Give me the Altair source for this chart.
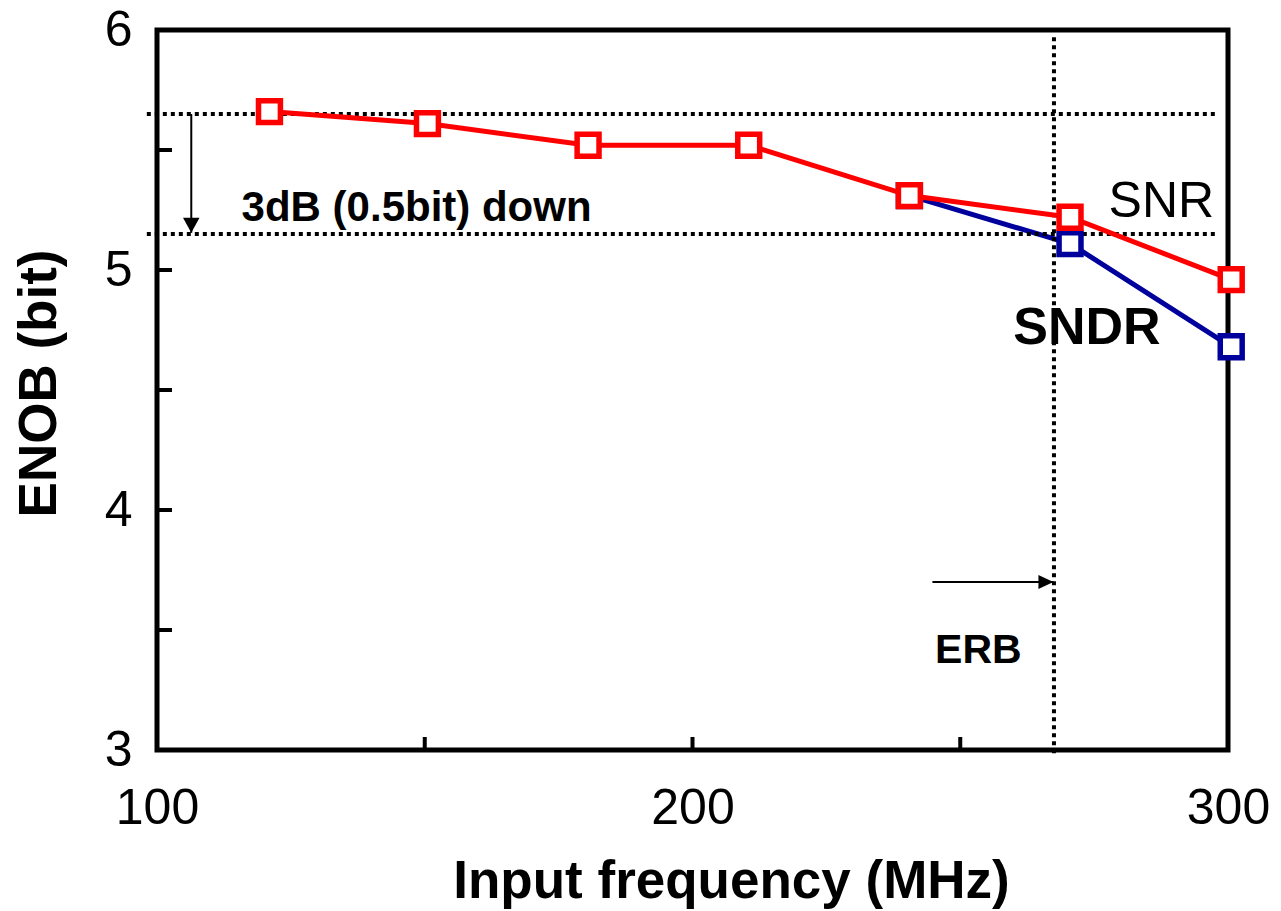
import altair as alt
import pandas as pd

# ---- data ----
freq_snr = [121, 150.5, 180.5, 210.5, 240.5, 270.5, 300.6]
snr = [5.66, 5.61, 5.52, 5.52, 5.31, 5.22, 4.96]
freq_sndr = [240.5, 270.5, 300.6]
sndr = [5.31, 5.11, 4.68]

x_tick_labels = [100, 200, 300]
y_tick_labels = [3, 4, 5, 6]
x_minor_ticks = [150, 200, 250]
y_minor_ticks = [3.5, 4, 4.5, 5, 5.5]

ref_levels = [5.65, 5.15]        # 3dB (0.5 bit) window
ref_x_start, ref_x_end = 98.1, 297.7
erb_freq = 267.5
erb_y_top, erb_y_bottom = 5.97, 2.98

down_arrow = {"x": 106.4, "y1": 5.65, "y2": 5.155}
erb_arrow = {"x1": 244.8, "x2": 267.4, "y": 3.70}

labels = pd.DataFrame({
    "x": [115.8, 277.7, 259.9, 245.3],
    "y": [5.204, 5.222, 4.692, 3.3625],
    "text": ["3dB (0.5bit) down", "SNR", "SNDR", "ERB"],
})

FONT = "Liberation Sans"
W, H = 1071, 720

xs = alt.Scale(domain=[100, 300], nice=False, zero=False)
ys = alt.Scale(domain=[3, 6], nice=False, zero=False)

snr_df = pd.DataFrame({"f": freq_snr, "v": snr})
sndr_df = pd.DataFrame({"f": freq_sndr, "v": sndr})

x_axis = alt.Axis(
    values=x_tick_labels, domain=False, ticks=False, tickSize=0, grid=False,
    labelFont=FONT, labelFontSize=50, labelColor="black", labelPadding=33,
    labelFlush=False, labelOverlap=False,
    title="Input frequency (MHz)", titleFont=FONT, titleFontSize=53,
    titleFontWeight="bold", titleColor="black", titleX=574, titleY=147,
    titleAlign="center", titleBaseline="alphabetic",
)
y_axis = alt.Axis(
    values=y_tick_labels, domain=False, ticks=False, tickSize=0, grid=False,
    labelFont=FONT, labelFontSize=50, labelColor="black", labelPadding=25,
    labelOverlap=False,
    title="ENOB (bit)", titleFont=FONT, titleFontSize=53,
    titleFontWeight="bold", titleColor="black", titleX=-102, titleY=353,
    titleAngle=270, titleAlign="center", titleBaseline="alphabetic",
)


def X(field):
    return alt.X(field, scale=xs, axis=x_axis)


def Y(field):
    return alt.Y(field, scale=ys, axis=y_axis)


sndr_line = alt.Chart(sndr_df).mark_line(color="#00009c", strokeWidth=5).encode(
    x=X("f:Q"), y=Y("v:Q"))
sndr_pts = alt.Chart(sndr_df).mark_point(
    shape="square", size=480, filled=True, fill="white", stroke="#00009c",
    strokeWidth=5.5, opacity=1).encode(x=X("f:Q"), y=Y("v:Q"))
snr_line = alt.Chart(snr_df).mark_line(color="#ff0000", strokeWidth=5).encode(
    x=X("f:Q"), y=Y("v:Q"))
snr_pts = alt.Chart(snr_df).mark_point(
    shape="square", size=480, filled=True, fill="white", stroke="#ff0000",
    strokeWidth=5.5, opacity=1).encode(x=X("f:Q"), y=Y("v:Q"))

# dotted reference lines
href_df = pd.DataFrame({"x1": [ref_x_start] * 2, "x2": [ref_x_end] * 2, "y": ref_levels})
hrefs = alt.Chart(href_df).mark_rule(color="black", strokeWidth=4, strokeDash=[4, 4]).encode(
    x=X("x1:Q"), x2="x2:Q", y=Y("y:Q"))
vref_df = pd.DataFrame({"x": [erb_freq], "y1": [erb_y_top], "y2": [erb_y_bottom]})
vref = alt.Chart(vref_df).mark_rule(color="black", strokeWidth=4, strokeDash=[4, 4]).encode(
    x=X("x:Q"), y=Y("y1:Q"), y2="y2:Q")

# arrows
darrow_df = pd.DataFrame([down_arrow])
darrow_line = alt.Chart(darrow_df).mark_rule(color="black", strokeWidth=2).encode(
    x=X("x:Q"), y=Y("y1:Q"), y2="y2:Q")
darrow_head = alt.Chart(darrow_df).mark_point(
    shape="M0,0 L-0.55,-1 L0.55,-1 Z", size=900, filled=True, color="black", opacity=1
).encode(x=X("x:Q"), y=Y("y2:Q"))
rarrow_df = pd.DataFrame([erb_arrow])
rarrow_line = alt.Chart(rarrow_df).mark_rule(color="black", strokeWidth=2).encode(
    x=X("x1:Q"), x2="x2:Q", y=Y("y:Q"))
rarrow_head = alt.Chart(rarrow_df).mark_point(
    shape="M0,0 L-1,-0.47 L-1,0.47 Z", size=900, filled=True, color="black", opacity=1
).encode(x=X("x2:Q"), y=Y("y:Q"))

# inward ticks
xt_df = pd.DataFrame({"t": x_minor_ticks})
xticks = alt.Chart(xt_df).mark_rule(color="black", strokeWidth=4).encode(
    x=X("t:Q"), y=alt.value(H), y2=alt.value(H - 13))
yt_df = pd.DataFrame({"t": y_minor_ticks})
yticks = alt.Chart(yt_df).mark_rule(color="black", strokeWidth=4).encode(
    y=Y("t:Q"), x=alt.value(0), x2=alt.value(15))


# text annotations
def txt(i, size, weight):
    return alt.Chart(labels.iloc[[i]]).mark_text(
        font=FONT, fontSize=size, fontWeight=weight, color="black",
        align="left", baseline="alphabetic"
    ).encode(x=X("x:Q"), y=Y("y:Q"), text="text:N")


texts = [txt(0, 42, "bold"), txt(1, 50, "normal"), txt(2, 52, "bold"), txt(3, 41, "bold")]

chart = alt.layer(
    sndr_line, hrefs, vref, xticks, yticks,
    darrow_line, darrow_head, rarrow_line, rarrow_head,
    sndr_pts, snr_line, snr_pts, *texts
).properties(
    width=W, height=H,
    autosize=alt.AutoSizeParams(type="none"),
    padding={"left": 157, "top": 30, "right": 1281 - 157 - W, "bottom": 911 - 30 - H},
    background="white",
).configure_view(
    stroke="black", strokeWidth=5
)

chart.save("out.html", embed_options={"renderer": "svg", "actions": False})
